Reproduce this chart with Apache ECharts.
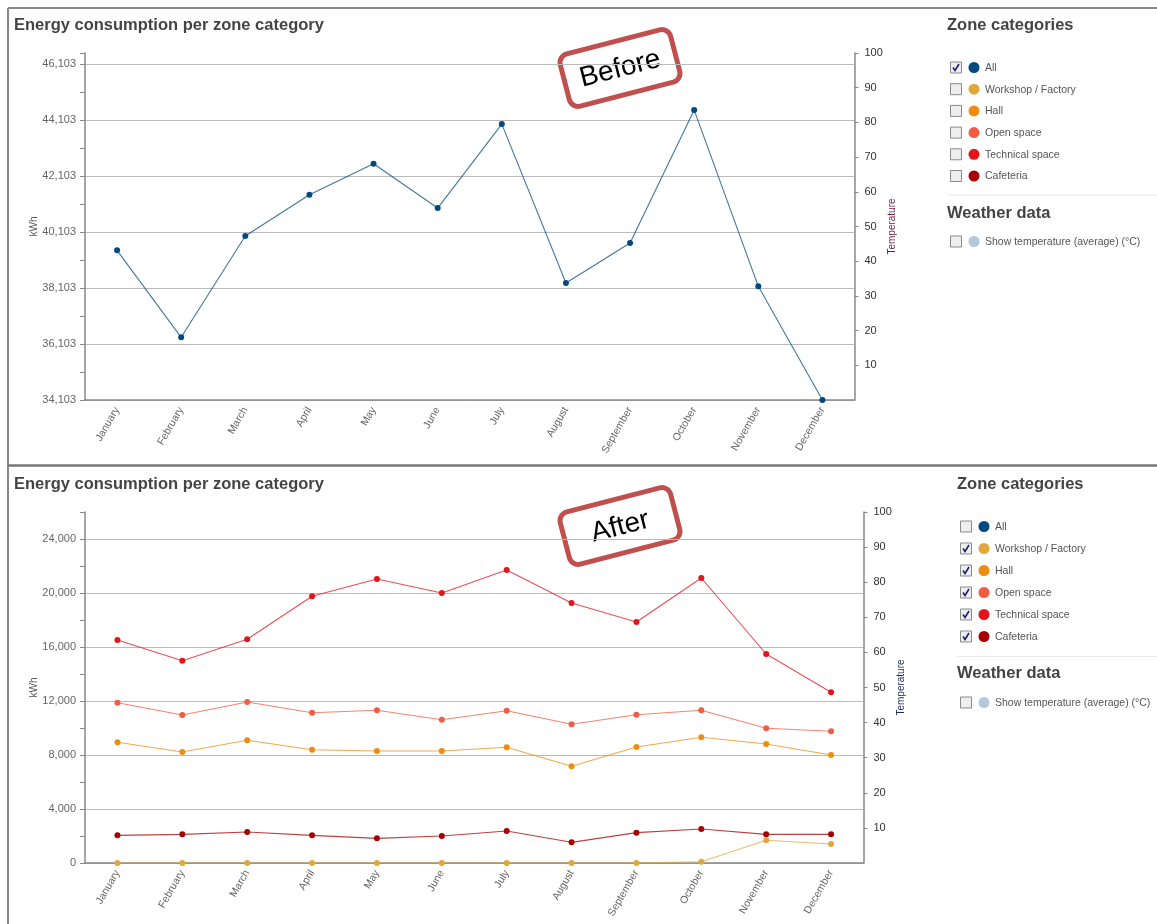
<!DOCTYPE html>
<html>
<head>
<meta charset="utf-8">
<script src="https://cdn.jsdelivr.net/npm/echarts@6/dist/echarts.min.js"></script>
<style>
html,body{margin:0;padding:0;background:#fff;}
#c{width:1157px;height:924px;}
</style>
</head>
<body>
<div id="c"></div>
<script>
// ---------- data ----------
const months = ["January","February","March","April","May","June","July","August","September","October","November","December"];
// Before: "All" zone categories (kWh)
const allZones = [39449, 36342, 39960, 41435, 42542, 40960, 43960, 38282, 39710, 44460, 38164, 34103];
// After: individual zone categories (kWh)
const workshopFactory = [0, 0, 0, 0, 0, 0, 0, 0, 0, 96, 1681, 1407];
const hall = [8941, 8222, 9089, 8393, 8296, 8296, 8570, 7163, 8593, 9311, 8815, 8000];
const openSpace = [11874, 10963, 11926, 11133, 11311, 10615, 11281, 10274, 10985, 11311, 9978, 9756];
const technicalSpace = [16519, 14985, 16570, 19756, 21037, 20000, 21704, 19259, 17852, 21111, 15481, 12644];
const cafeteria = [2049, 2123, 2296, 2049, 1827, 2000, 2370, 1531, 2247, 2519, 2123, 2123];
const legendItems = ["All","Workshop / Factory","Hall","Open space","Technical space","Cafeteria"];
const legendColors = ["#004a80","#e1a73b","#ef8c10","#f25b44","#e3141b","#a60000"];
const checkedBefore = [true,false,false,false,false,false];
const checkedAfter = [false,true,true,true,true,true];
const weatherLabel = "Show temperature (average) (°C)";
const weatherColor = "#b4c8dc";
const titleText = "Energy consumption per zone category";

const FONT = "'Liberation Sans', Arial, sans-serif";
const fmt = v => Math.round(v).toLocaleString('en-US');

const chart = echarts.init(document.getElementById('c'), null, {renderer:'canvas'});

function xAxisCfg(gi){
  return {
    type:'category', gridIndex:gi, data:months, boundaryGap:true, z:3,
    axisLine:{lineStyle:{color:'#888', width:1.5}},
    axisTick:{alignWithLabel:true, length:5, lineStyle:{color:'#888'}},
    axisLabel:{rotate:60, color:'#666', fontSize:10.5, fontFamily:FONT, margin:8}
  };
}
function leftAxisCfg(gi, min, max, interval){
  return {
    type:'value', gridIndex:gi, position:'left', min:min, max:max, interval:interval,
    name:'kWh', nameLocation:'middle', nameGap:46, nameMoveOverlap:false,
    nameTextStyle:{color:'#555', fontSize:10, fontFamily:FONT},
    axisLine:{show:true, lineStyle:{color:'#888', width:1.5}},
    axisTick:{show:true, length:5, lineStyle:{color:'#888'}},
    minorTick:{show:true, splitNumber:2, length:5, lineStyle:{color:'#888'}},
    axisLabel:{color:'#666', fontSize:11, fontFamily:FONT, showMaxLabel:false, margin:9, formatter:fmt},
    splitLine:{show:true, showMaxLine:false, lineStyle:{color:'#bbb', width:1}}
  };
}
function rightAxisCfg(gi, nameColor){
  return {
    type:'value', gridIndex:gi, position:'right', min:0, max:100, interval:10,
    name:'Temperature', nameLocation:'middle', nameGap:33, nameMoveOverlap:false,
    nameTextStyle:{color:nameColor, fontSize:10, fontFamily:FONT},
    axisLine:{show:true, lineStyle:{color:'#888', width:1.5}},
    axisTick:{show:true, length:4, lineStyle:{color:'#888'}},
    axisLabel:{color:'#333', fontSize:11, fontFamily:FONT, showMinLabel:false, margin:10},
    splitLine:{show:false}
  };
}
function lineSeries(name, data, color, xi, yi){
  return {
    type:'line', name:name, data:data, xAxisIndex:xi, yAxisIndex:yi,
    symbol:'circle', symbolSize:6, showSymbol:true,
    itemStyle:{color:color},
    lineStyle:{color:color, width:1.1, opacity:0.75},
    emphasis:{disabled:true}, animation:false
  };
}

// ---------- graphics: borders, titles, stamps, legend panels ----------
const graphics = [];
graphics.push({type:'line', shape:{x1:8,y1:8,x2:1157,y2:8}, style:{stroke:'#888', lineWidth:2}});
graphics.push({type:'line', shape:{x1:8,y1:8,x2:8,y2:924}, style:{stroke:'#888', lineWidth:2}});
graphics.push({type:'line', shape:{x1:8,y1:465.5,x2:1157,y2:465.5}, style:{stroke:'#777', lineWidth:2.5}});

function addTitle(y){
  graphics.push({type:'text', x:14, y:y, style:{text:titleText, font:'bold 16.5px '+FONT, fill:'#444', textVerticalAlign:'middle'}});
}
addTitle(25); addTitle(484);

function addStamp(cx, cy, label){
  graphics.push({type:'group', x:cx, y:cy, rotation:14.5*Math.PI/180, z:50, children:[
    {type:'rect', shape:{x:-57, y:-27, width:114, height:54, r:9}, style:{fill:'#fff', stroke:'#c0504d', lineWidth:5}},
    {type:'text', x:0, y:1, style:{text:label, font:'28px '+FONT, fill:'#000', textAlign:'center', textVerticalAlign:'middle'}}
  ]});
}
addStamp(620, 68, 'Before');
addStamp(620, 526, 'After');

function checkbox(x, y, checked){
  graphics.push({type:'rect', shape:{x:x, y:y, width:11, height:11}, style:{fill:'#eeeeee', stroke:'#8a8a8a', lineWidth:1}});
  if(checked){
    graphics.push({type:'polyline', shape:{points:[[x+2.5,y+5.5],[x+4.5,y+8.5],[x+8.5,y+2]]}, style:{stroke:'#1f1f6e', lineWidth:1.6, fill:null}});
  }
}
function addPanel(px, titleY, rowY0, rowStep, checked, sepY, weatherTitleY, weatherRowY){
  graphics.push({type:'text', x:px, y:titleY, style:{text:'Zone categories', font:'bold 16.5px '+FONT, fill:'#444', textVerticalAlign:'middle'}});
  for(let i=0;i<legendItems.length;i++){
    const y = rowY0 + i*rowStep;
    checkbox(px+3.5, y-5.5, checked[i]);
    graphics.push({type:'circle', shape:{cx:px+27, cy:y, r:5.5}, style:{fill:legendColors[i]}});
    graphics.push({type:'text', x:px+38, y:y+0.5, style:{text:legendItems[i], font:'10.5px '+FONT, fill:'#555', textVerticalAlign:'middle'}});
  }
  graphics.push({type:'line', shape:{x1:px, y1:sepY, x2:1157, y2:sepY}, style:{stroke:'#eaeaea', lineWidth:1}});
  graphics.push({type:'text', x:px, y:weatherTitleY, style:{text:'Weather data', font:'bold 16.5px '+FONT, fill:'#444', textVerticalAlign:'middle'}});
  checkbox(px+3.5, weatherRowY-5.5, false);
  graphics.push({type:'circle', shape:{cx:px+27, cy:weatherRowY, r:5.5}, style:{fill:weatherColor}});
  graphics.push({type:'text', x:px+38, y:weatherRowY+0.5, style:{text:weatherLabel, font:'10.5px '+FONT, fill:'#555', textVerticalAlign:'middle'}});
}
addPanel(947, 25, 67.5, 21.7, checkedBefore, 195, 213, 241.5);
addPanel(957, 484, 526.5, 22, checkedAfter, 656.5, 673, 702.5);

const option = {
  animation:false,
  backgroundColor:'#fff',
  grid:[
    {left:85, right:302.5, top:53, height:347, containLabel:false},
    {left:85, right:293.5, top:512, height:351, containLabel:false}
  ],
  xAxis:[xAxisCfg(0), xAxisCfg(1)],
  yAxis:[
    leftAxisCfg(0, 34103, 46500, 2000),
    rightAxisCfg(0, '#6b1e45'),
    leftAxisCfg(1, 0, 26000, 4000),
    rightAxisCfg(1, '#1e2d5e')
  ],
  series:[
    lineSeries('All', allZones, legendColors[0], 0, 0),
    lineSeries('Workshop / Factory', workshopFactory, legendColors[1], 1, 2),
    lineSeries('Hall', hall, legendColors[2], 1, 2),
    lineSeries('Open space', openSpace, legendColors[3], 1, 2),
    lineSeries('Technical space', technicalSpace, legendColors[4], 1, 2),
    lineSeries('Cafeteria', cafeteria, legendColors[5], 1, 2)
  ],
  graphic:graphics
};
chart.setOption(option);
</script>
</body>
</html>
